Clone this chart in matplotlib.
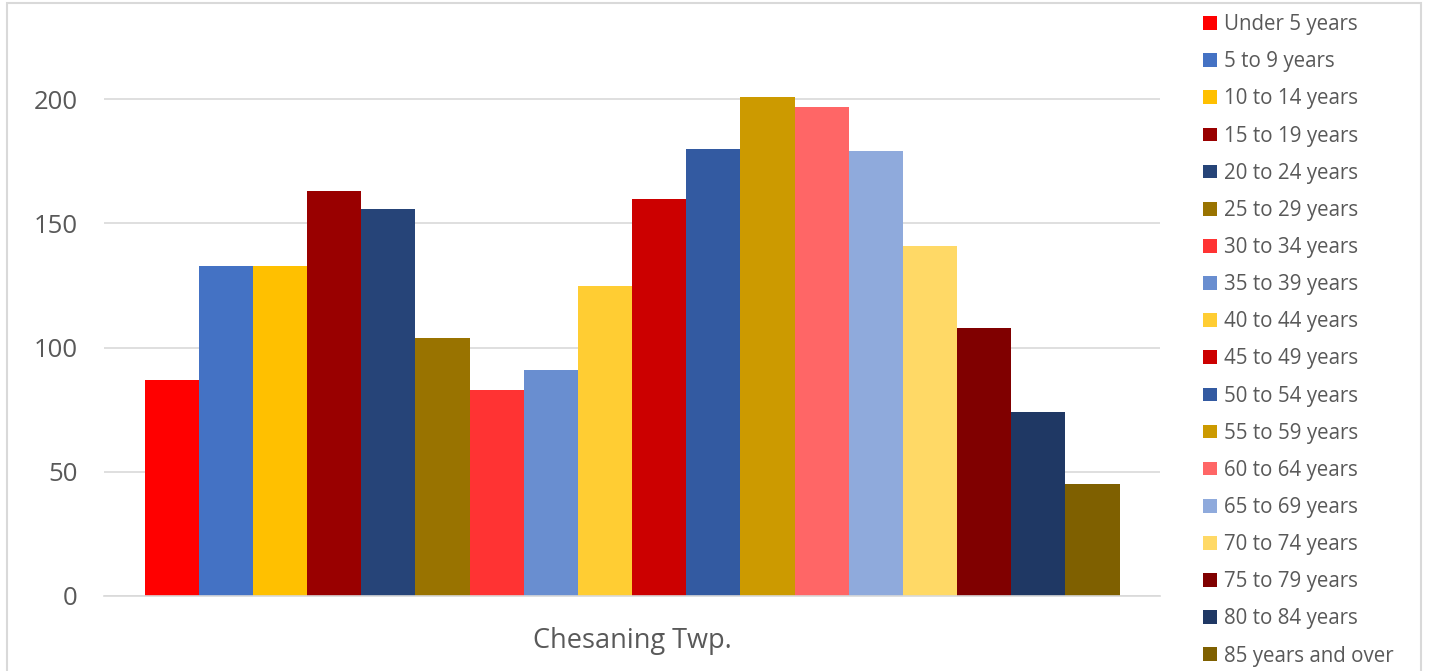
import matplotlib.pyplot as plt
from matplotlib.patches import Rectangle

# --- DONNÉES ---
place = "Chesaning Twp."
age_groups = [
    "Under 5 years", "5 to 9 years", "10 to 14 years", "15 to 19 years",
    "20 to 24 years", "25 to 29 years", "30 to 34 years", "35 to 39 years",
    "40 to 44 years", "45 to 49 years", "50 to 54 years", "55 to 59 years",
    "60 to 64 years", "65 to 69 years", "70 to 74 years", "75 to 79 years",
    "80 to 84 years", "85 years and over",
]
population = [87, 133, 133, 163, 156, 104, 83, 91, 125, 160,
              180, 201, 197, 179, 141, 108, 74, 45]
colors = [
    "#FF0000", "#4472C4", "#FFC000", "#990000", "#264478", "#997300",
    "#FF3333", "#698ED0", "#FFCD33", "#CC0000", "#335AA1", "#CC9A00",
    "#FF6666", "#8FAADC", "#FFD966", "#800000", "#1F3864", "#7F6000",
]
yticks = [0, 50, 100, 150, 200]

plt.rcParams['font.family'] = ['Open Sans', 'DejaVu Sans']
gray = "#595959"

fig = plt.figure(figsize=(14.29, 6.71), dpi=100)
ax = fig.add_axes([0.0728, 0.1118, 0.739, 0.7958])

# --- BARRES ---
n = len(population)
group_width = 975 / 1056
w = group_width / n
start = 0.5 - group_width / 2
for i, (label, val, col) in enumerate(zip(age_groups, population, colors)):
    ax.bar(start + (i + 0.5) * w, val, width=w, color=col, label=label, zorder=2)

ax.set_xlim(0, 1)
ax.set_ylim(0, 215)
ax.set_yticks(yticks)
ax.set_xticks([0.5])
ax.set_xticklabels([place])
ax.tick_params(axis='y', length=0, labelsize=18.5, colors=gray, pad=19)
ax.tick_params(axis='x', length=0, labelsize=19.5, colors=gray, pad=22)
ax.grid(axis='y', color="#D9D9D9", linewidth=1.2, zorder=0)
for s in ["top", "right", "left"]:
    ax.spines[s].set_visible(False)
ax.spines["bottom"].set_color("#D9D9D9")
ax.spines["bottom"].set_linewidth(1.2)

# --- LÉGENDE ---
fig.legend(loc="upper left", bbox_to_anchor=(1195 / 1429, 1 - 6 / 671),
           frameon=False, fontsize=14.8, labelcolor=gray,
           handlelength=0.65, handleheight=0.65, handletextpad=0.35,
           labelspacing=0.785, borderaxespad=0)

# --- CADRE ---
fig.patches.append(Rectangle((7 / 1429, -0.01), 1414 / 1429, 1 - 3 / 671 + 0.01,
                             transform=fig.transFigure, fill=False,
                             edgecolor="#D9D9D9", linewidth=1.5))

fig.savefig("out.png", dpi=100)
